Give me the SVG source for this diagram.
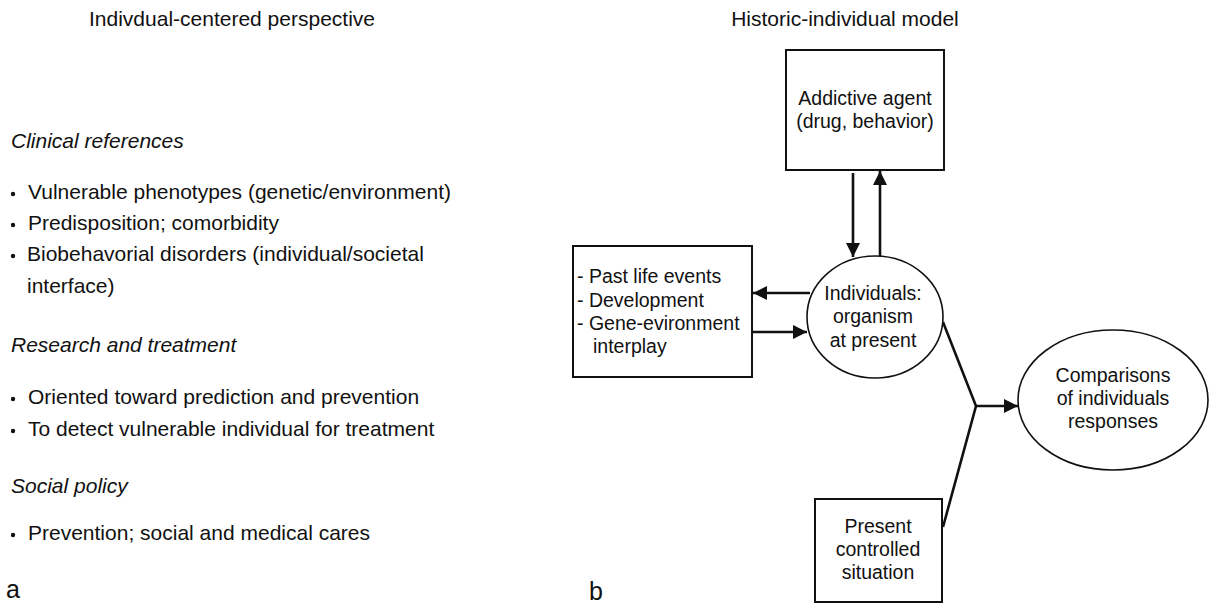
<svg xmlns="http://www.w3.org/2000/svg" width="1209" height="603" viewBox="0 0 1209 603">
  <style>
    text { font-family: "Liberation Sans", Arial, Helvetica, sans-serif; fill: #111; }
    .title { font-size: 21px; }
    .head { font-size: 21px; font-style: italic; }
    .item { font-size: 21px; }
    .lbl { font-size: 19.5px; }
    .panel { font-size: 25px; }
    .box { fill: #fff; stroke: #111; stroke-width: 2; }
    .oval { fill: #fff; stroke: #111; stroke-width: 1.6; }
    .link { fill: none; stroke: #111; stroke-width: 2.6; }
    .dot { fill: #111; }
  </style>
  <defs>
    <marker id="arrow" viewBox="0 0 14 14" markerWidth="14" markerHeight="14" refX="14" refY="7" orient="auto" markerUnits="userSpaceOnUse">
      <path d="M0,0 L14,7 L0,14 z" fill="#111"/>
    </marker>
  </defs>

  <!-- Panel a: text list -->
  <g id="panel-a">
    <text class="title" x="232" y="26" text-anchor="middle">Indivdual-centered perspective</text>
    <text class="head" x="11" y="148">Clinical references</text>
    <circle class="dot" cx="13" cy="194" r="2.2"/>
    <text class="item" x="28" y="199">Vulnerable phenotypes (genetic/environment)</text>
    <circle class="dot" cx="13" cy="225" r="2.2"/>
    <text class="item" x="28" y="230">Predisposition; comorbidity</text>
    <circle class="dot" cx="13" cy="256" r="2.2"/>
    <text class="item" x="27" y="261">Biobehavorial disorders (individual/societal</text>
    <text class="item" x="27" y="293">interface)</text>
    <text class="head" x="11" y="352">Research and treatment</text>
    <circle class="dot" cx="13" cy="399" r="2.2"/>
    <text class="item" x="28" y="404">Oriented toward prediction and prevention</text>
    <circle class="dot" cx="13" cy="431" r="2.2"/>
    <text class="item" x="28" y="436">To detect vulnerable individual for treatment</text>
    <text class="head" x="11" y="493">Social policy</text>
    <circle class="dot" cx="13" cy="535" r="2.2"/>
    <text class="item" x="28" y="540">Prevention; social and medical cares</text>
    <text class="panel" x="6" y="598">a</text>
  </g>

  <!-- Panel b: model diagram -->
  <text class="title" x="845" y="26" text-anchor="middle">Historic-individual model</text>
  <text class="panel" x="589" y="600">b</text>

  <g id="connectors">
    <line class="link" x1="853" y1="173" x2="853" y2="257" marker-end="url(#arrow)"/>
    <line class="link" x1="880" y1="256" x2="880" y2="171" marker-end="url(#arrow)"/>
    <line class="link" x1="810" y1="293" x2="753" y2="293" marker-end="url(#arrow)"/>
    <line class="link" x1="752" y1="332" x2="807" y2="332" marker-end="url(#arrow)"/>
    <polyline class="link" points="943,322 976,406 943,527"/>
    <line class="link" x1="975" y1="406" x2="1018" y2="406" marker-end="url(#arrow)"/>
  </g>

  <g id="addictive-agent">
    <rect class="box" x="786" y="50" width="158" height="120"/>
    <text class="lbl" x="865" y="105" text-anchor="middle">Addictive agent</text>
    <text class="lbl" x="865" y="128" text-anchor="middle">(drug, behavior)</text>
  </g>

  <g id="history">
    <rect class="box" x="573" y="246" width="179" height="131"/>
    <text class="lbl" x="577" y="283">- Past life events</text>
    <text class="lbl" x="577" y="307">- Development</text>
    <text class="lbl" x="577" y="330">- Gene-evironment</text>
    <text class="lbl" x="593" y="353">interplay</text>
  </g>

  <g id="individuals">
    <ellipse class="oval" cx="875" cy="317" rx="68" ry="61"/>
    <text class="lbl" x="873" y="300" text-anchor="middle">Individuals:</text>
    <text class="lbl" x="873" y="323" text-anchor="middle">organism</text>
    <text class="lbl" x="873" y="347" text-anchor="middle">at present</text>
  </g>

  <g id="comparisons">
    <ellipse class="oval" cx="1113" cy="400" rx="95" ry="70"/>
    <text class="lbl" x="1113" y="382" text-anchor="middle">Comparisons</text>
    <text class="lbl" x="1113" y="405" text-anchor="middle">of individuals</text>
    <text class="lbl" x="1113" y="428" text-anchor="middle">responses</text>
  </g>

  <g id="present-situation">
    <rect class="box" x="815" y="499" width="127" height="103"/>
    <text class="lbl" x="878" y="533" text-anchor="middle">Present</text>
    <text class="lbl" x="878" y="556" text-anchor="middle">controlled</text>
    <text class="lbl" x="878" y="579" text-anchor="middle">situation</text>
  </g>
</svg>
